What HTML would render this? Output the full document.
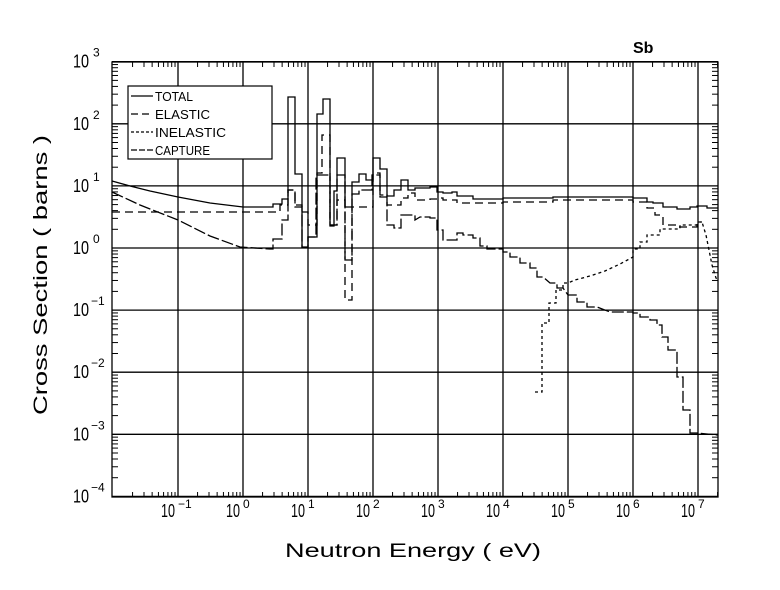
<!DOCTYPE html>
<html><head><meta charset="utf-8"><style>
html,body{margin:0;padding:0;background:#fff;}
svg{display:block;font-family:"Liberation Sans",sans-serif;}
</style></head><body>
<svg id="s" width="780" height="590" viewBox="0 0 780 590" xmlns="http://www.w3.org/2000/svg">
<rect width="780" height="590" fill="#fff"/>
<g id="grid" stroke="#000" stroke-width="1.3" fill="none"></g>
<g id="ticks" stroke="#000" stroke-width="1" fill="none"></g>
<g id="labels" fill="#000"></g>
<g id="series" fill="none" stroke="#000" stroke-width="1.3">
<polyline id="total" points="112,181 130,186 150,191 178,197 210,203 243,207 273,207 273,204 282,204 282,199 288,199 288,97 295,97 295,174 302,174 302,247 308,247 308,237 317,237 317,114 323,114 323,99 330,99 330,226 334,226 334,191 337,191 337,158 345,158 345,207 352,207 352,182 359,182 359,174 366,174 366,180 373,180 373,158 380,158 380,169 387,169 387,196 394,196 394,190 401,190 401,180 408,180 408,190 415,190 415,188 430,188 430,187 437,187 437,192 443,192 443,193 452,193 452,192 457,192 457,196 473,196 473,199 503,199 503,198 553,198 553,197 633,197 633,198 647,198 647,202 653,202 653,203 663,203 663,207 677,207 677,209 690,209 690,207 697,207 697,206 707,206 707,208 718,208"/>
<polyline id="elastic" stroke-dasharray="8,5" points="112,212 270,212 280,212 280,205 288,205 288,190 295,190 295,205 302,205 302,212 308,212 308,225 317,225 317,173 322,173 322,135 330,135 330,225 337,225 337,200 345,200 345,300 352,300 352,207 373,207 373,173 380,173 380,197 387,197 387,205 401,205 401,198 408,198 408,193 415,193 415,200 430,200 430,199 437,199 437,198 443,198 443,200 457,200 457,203 503,203 503,202 553,202 553,200 633,200 633,202 647,202 647,208 655,208 655,215 663,215 663,225 677,225 677,227 697,227 697,222 702,222"/>
<polyline id="inel" stroke-dasharray="3,3" points="535,392 542,392 542,323 549,323 549,303 556,303 556,290 563,290 563,283 568,283 575,280 590,276 605,271 620,264 633,257 633,249 640,249 640,242 647,242 647,235 660,235 660,229 680,229 680,225 697,225 697,222 702,222 706,235 709,250 712,265 716,278 718,280"/>
<polyline id="capture" stroke-dasharray="12,3" points="112,192 140,205 178,220 210,236 240,247 270,249 273,249 273,239 282,239 282,220 288,220 288,190 295,190 295,207 302,207 302,247 308,248 308,237 316,237 316,175 330,175 330,225 337,225 337,175 345,175 345,260 352,260 352,194 359,194 359,190 372,190 372,175 380,175 380,195 387,195 387,225 394,225 394,228 401,228 401,215 415,215 415,220 420,217 430,217 430,218 437,218 437,230 443,230 443,240 452,240 452,240 457,240 457,233 463,233 463,235 473,235 473,238 480,238 480,246 487,246 487,249 503,249 503,252 510,252 510,257 520,257 520,263 530,263 530,268 537,268 537,277 543,277 550,283 557,283 557,288 563,288 568,295 577,295 577,302 587,302 587,307 597,307 610,312 633,312 633,313 640,313 640,317 650,317 650,320 657,320 657,325 662,325 662,337 668,337 668,350 677,350 677,377 683,377 683,410 690,410 690,433 697,433 707,434 718,435"/>
</g>
<g id="legend">
<rect x="128" y="86" width="144" height="73" fill="#fff" stroke="#000" stroke-width="1.2"/>
<line x1="131" y1="96" x2="153" y2="96" stroke="#000" stroke-width="1.2"/>
<line x1="131" y1="114" x2="153" y2="114" stroke="#000" stroke-width="1.2" stroke-dasharray="7,4"/>
<line x1="131" y1="132" x2="153" y2="132" stroke="#000" stroke-width="1.2" stroke-dasharray="3,2"/>
<line x1="131" y1="150" x2="153" y2="150" stroke="#000" stroke-width="1.2" stroke-dasharray="6,2"/>
<text x="155" y="101" font-size="13" textLength="38" lengthAdjust="spacingAndGlyphs">TOTAL</text>
<text x="155" y="119" font-size="13" textLength="55" lengthAdjust="spacingAndGlyphs">ELASTIC</text>
<text x="155" y="137" font-size="13" textLength="71" lengthAdjust="spacingAndGlyphs">INELASTIC</text>
<text x="155" y="155" font-size="13" textLength="55" lengthAdjust="spacingAndGlyphs">CAPTURE</text>
</g>
<rect x="112" y="62" width="606" height="435" fill="none" stroke="#000" stroke-width="1.3"/>
<text x="633" y="53" font-size="16" font-weight="bold">Sb</text>
<text x="285" y="557" font-size="19" textLength="256" lengthAdjust="spacingAndGlyphs">Neutron Energy ( eV)</text>
<text transform="translate(47,415) rotate(-90)" font-size="19" textLength="280" lengthAdjust="spacingAndGlyphs">Cross Section ( barns )</text>
</svg>
<script>
var NS="http://www.w3.org/2000/svg";
function el(p,t,a,txt){var e=document.createElementNS(NS,t);for(var k in a)e.setAttribute(k,a[k]);if(txt!==undefined)e.textContent=txt;document.getElementById(p).appendChild(e);}
function X(l){return 243+65*l;} function Y(l){return 248-62.1*l;}
for(var d=-1;d<=7;d++){el("grid","line",{x1:X(d),y1:62,x2:X(d),y2:497});}
for(var d=-4;d<=3;d++){el("grid","line",{x1:112,y1:Y(d),x2:718,y2:Y(d)});}
for(var d=-2;d<=7;d++){for(var m=2;m<=9;m++){var x=X(d+Math.log10(m));if(x<=112||x>=718)continue;
 el("ticks","line",{x1:x,y1:497,x2:x,y2:492});el("ticks","line",{x1:x,y1:62,x2:x,y2:67});}}
for(var d=-4;d<3;d++){for(var m=2;m<=9;m++){var y=Y(d+Math.log10(m));
 el("ticks","line",{x1:112,y1:y,x2:118,y2:y});el("ticks","line",{x1:718,y1:y,x2:712,y2:y});}}
for(var d=-4;d<=3;d++){var y=Y(d);
 el("labels","text",{x:73,y:y+6,"font-size":18,textLength:16,lengthAdjust:"spacingAndGlyphs"},"10");
 el("labels","text",{x:d<0?91:93,y:y-5,"font-size":12},String(d).replace("-","\u2212"));}
for(var d=-1;d<=7;d++){var x=X(d);
 el("labels","text",{x:x-17,y:517,"font-size":18,textLength:14,lengthAdjust:"spacingAndGlyphs"},"10");
 el("labels","text",{x:x,y:508,"font-size":12},String(d).replace("-","\u2212"));}
</script>
</body></html>
